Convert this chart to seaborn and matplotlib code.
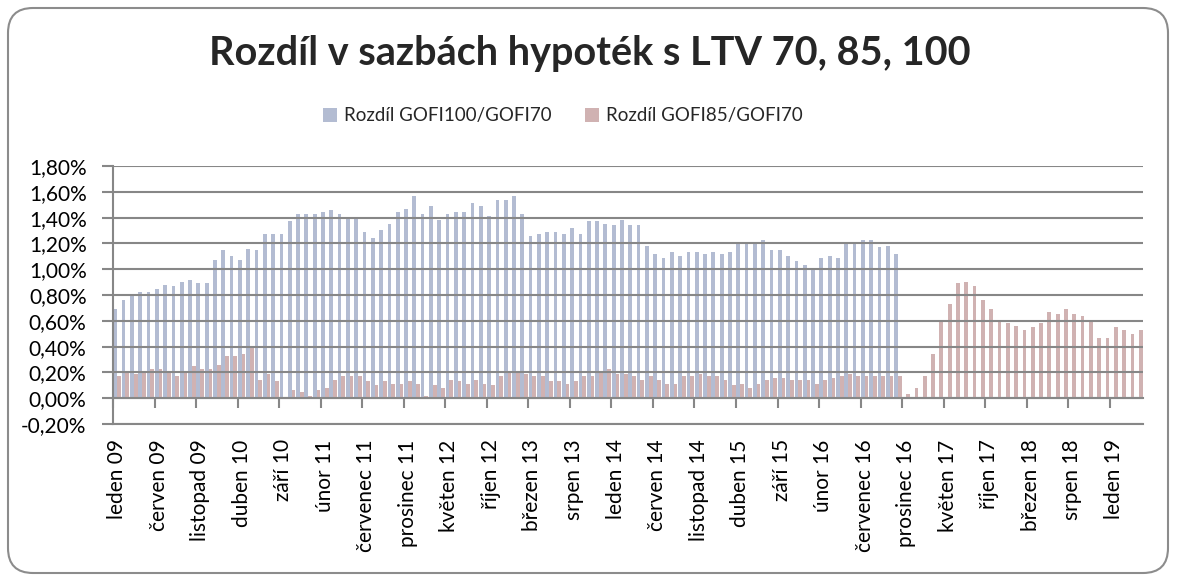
import numpy as np
import pandas as pd
import matplotlib
matplotlib.use("Agg")
import matplotlib.pyplot as plt
import seaborn as sns
from matplotlib.patches import FancyBboxPatch
from matplotlib.transforms import IdentityTransform
from matplotlib.ticker import FuncFormatter

# ── Data ────────────────────────────────────────────────────────────────
MONTH_NAMES = ["leden", "únor", "březen", "duben", "květen", "červen",
               "červenec", "srpen", "září", "říjen", "listopad", "prosinec"]
YEARS = ["09", "10", "11", "12", "13", "14", "15", "16", "17", "18", "19"]
MONTHS = [f"{m} {y}" for y in YEARS for m in MONTH_NAMES][:124]  # leden 09 .. duben 19

# Rozdíl GOFI100/GOFI70 (v %), leden 09 .. listopad 16
GOFI100_70 = [
    0.69, 0.76, 0.80, 0.82, 0.82, 0.85, 0.88, 0.87, 0.90, 0.92, 0.89, 0.89,
    1.07, 1.15, 1.10, 1.07, 1.16, 1.15, 1.27, 1.27, 1.27, 1.37, 1.43, 1.43,
    1.43, 1.44, 1.46, 1.43, 1.40, 1.40, 1.29, 1.24, 1.30, 1.35, 1.44, 1.47,
    1.57, 1.43, 1.49, 1.38, 1.43, 1.44, 1.44, 1.51, 1.49, 1.41, 1.54, 1.54,
    1.57, 1.43, 1.26, 1.27, 1.29, 1.29, 1.27, 1.32, 1.27, 1.37, 1.37, 1.35,
    1.34, 1.38, 1.34, 1.34, 1.18, 1.12, 1.09, 1.13, 1.10, 1.13, 1.13, 1.12,
    1.13, 1.12, 1.13, 1.20, 1.20, 1.21, 1.23, 1.15, 1.15, 1.10, 1.06, 1.03,
    1.01, 1.09, 1.10, 1.09, 1.20, 1.20, 1.23, 1.23, 1.17, 1.18, 1.12,
]

# Rozdíl GOFI85/GOFI70 (v %), leden 09 .. duben 19
GOFI85_70 = [
    0.17, 0.21, 0.19, 0.21, 0.23, 0.23, 0.21, 0.17, 0.21, 0.25, 0.23, 0.23,
    0.26, 0.33, 0.33, 0.34, 0.40, 0.14, 0.19, 0.13, 0.00, 0.06, 0.05, 0.02,
    0.06, 0.08, 0.14, 0.17, 0.17, 0.17, 0.13, 0.10, 0.13, 0.11, 0.11, 0.13,
    0.11, 0.02, 0.10, 0.08, 0.14, 0.13, 0.11, 0.14, 0.11, 0.10, 0.17, 0.20,
    0.20, 0.19, 0.17, 0.17, 0.13, 0.13, 0.11, 0.13, 0.17, 0.17, 0.20, 0.23,
    0.19, 0.19, 0.17, 0.14, 0.17, 0.14, 0.11, 0.11, 0.17, 0.17, 0.19, 0.17,
    0.17, 0.14, 0.10, 0.11, 0.08, 0.11, 0.14, 0.16, 0.16, 0.14, 0.14, 0.14,
    0.11, 0.14, 0.16, 0.17, 0.19, 0.17, 0.17, 0.17, 0.17, 0.17, 0.17, 0.03,
    0.08, 0.17, 0.34, 0.61, 0.73, 0.89, 0.90, 0.87, 0.76, 0.69, 0.59, 0.58,
    0.56, 0.53, 0.55, 0.58, 0.67, 0.65, 0.69, 0.65, 0.64, 0.59, 0.47, 0.47,
    0.55, 0.53, 0.50, 0.53,
]

SERIES = ["Rozdíl GOFI100/GOFI70", "Rozdíl GOFI85/GOFI70"]
COLORS = ["#AEBAD7", "#D5ADAD"]
GRID = "#878787"

# ── Style ───────────────────────────────────────────────────────────────
sns.set_theme(style="white")
plt.rcParams["font.family"] = ["Lato", "DejaVu Sans"]

df = pd.concat([
    pd.DataFrame({"month": MONTHS[:len(GOFI100_70)], "series": SERIES[0], "value": GOFI100_70}),
    pd.DataFrame({"month": MONTHS[:len(GOFI85_70)], "series": SERIES[1], "value": GOFI85_70}),
], ignore_index=True)

fig = plt.figure(figsize=(11.78, 5.80), dpi=100)
ax = fig.add_axes([113 / 1178, 1 - 424 / 580, 1030 / 1178, 258 / 580])

sns.barplot(
    data=df, x="month", y="value", hue="series",
    order=MONTHS, hue_order=SERIES, palette=COLORS,
    width=0.9, gap=0, errorbar=None, linewidth=0, ax=ax,
)

handles, labels = ax.get_legend_handles_labels()
ax.legend_.remove()

ax.set_xlim(-0.5, len(MONTHS) - 0.5)
ax.set_ylim(-0.2, 1.8)
ax.set_yticks(np.round(np.arange(-0.2, 1.81, 0.2), 2))
ax.yaxis.set_major_formatter(
    FuncFormatter(lambda v, _: f"{v:.2f}%".replace(".", ",").replace("-0,00", "0,00"))
)
ax.set_xlabel("")
ax.set_ylabel("")

ax.set_xticks(range(0, len(MONTHS), 5))
ax.set_xticklabels(MONTHS[::5], rotation=90)
ax.tick_params(axis="x", length=0, pad=11, labelsize=15, colors="black")
ax.tick_params(axis="y", direction="out", length=8, width=1.5, color=GRID,
               pad=11, labelsize=15, labelcolor="black", left=True)

ax.yaxis.grid(True, color=GRID, linewidth=1.5)
ax.set_axisbelow(False)
for side in ["top", "right"]:
    ax.spines[side].set_visible(False)
for side in ["left", "bottom"]:
    ax.spines[side].set_color(GRID)
    ax.spines[side].set_linewidth(1.5)

# category axis crosses at 0 with tick marks between every 5th month
zero_pos = (0 - (-0.2)) / 2.0
sec = ax.secondary_xaxis(zero_pos)
sec.set_xticks(np.arange(-0.5, len(MONTHS) - 1, 5))
sec.set_xticklabels([])
sec.tick_params(axis="x", direction="out", length=7, width=1.5, color=GRID)
sec.spines["bottom"].set_color(GRID)
sec.spines["bottom"].set_linewidth(1.5)

# ── Title, legend, frame ────────────────────────────────────────────────
fig.text(590 / 1178, 1 - 53 / 580, "Rozdíl v sazbách hypoték s LTV 70, 85, 100",
         ha="center", va="center", fontsize=28.5, fontweight="bold")

fig.legend(handles, labels, loc="center", bbox_to_anchor=(563 / 1178, 1 - 116 / 580),
           ncol=2, frameon=False, fontsize=13.5, handlelength=0.75, handleheight=0.75,
           handletextpad=0.35, columnspacing=1.8)

frame = FancyBboxPatch((8, 7), 1160, 565, boxstyle="round,pad=0,rounding_size=25",
                       transform=IdentityTransform(), facecolor="none",
                       edgecolor="#8C8C8C", linewidth=1.5)
fig.patches.append(frame)

fig.savefig("out.png", dpi=100)
